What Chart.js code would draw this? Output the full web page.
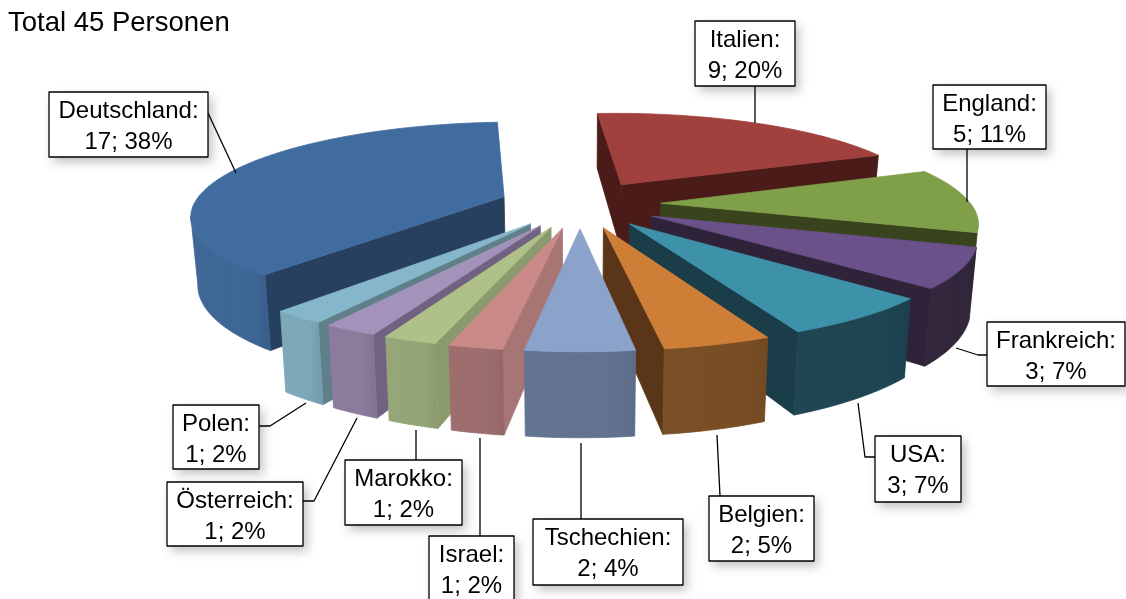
<!DOCTYPE html>
<html>
<head>
<meta charset="utf-8">
<style>html,body{margin:0;padding:0;background:#fff}canvas{display:block}</style>
<script src="https://cdn.jsdelivr.net/npm/chart.js@4/dist/chart.umd.js"></script>
</head>
<body>
<canvas id="c" width="1126" height="599"></canvas>
<script>
const categories = ['Deutschland','Italien','England','Frankreich','USA','Belgien','Tschechien','Israel','Marokko','Österreich','Polen'];
const personen = [17,9,5,3,3,2,2,1,1,1,1];
const prozent = [38,20,11,7,7,5,4,2,2,2,2];
const titleText = 'Total 45 Personen';
const topColors = ['#416CA0','#A0413D','#7F9F49','#6A5189','#3D92AA','#CF7E38','#8BA2CA','#C98987','#AFC189','#A393BA','#86B6C9'];
const wallColors = ['#3C6595','#4A1B18','#39441E','#2E2338','#1C4250','#784C22','#60718F','#9C6B6B','#93A475','#8B799B','#7AA7B9'];
const sideColors = ['#284060','#4A1B18','#39441E','#2E2338','#1B3D49','#5B3517','#55667F','#A87575','#8A9A6E','#706280','#5F8089'];
const noOuterWall = ['England'];

// label layout: box [x, y, w, h], leader polyline [x,y,...]
const labelBoxes = [[49,92,159,65],[695,21,100,65],[933,85,113,64],[987,322,138,64],[875,436,86,66],[709,496,105,65],[533,519,150,66],[429,536,85,66],[345,460,117,65],[167,482,136,64],[173,405,86,64]];
const leaderLines = [
  [208,113,236,173],[755,86,755,123],[967,149,967,202],
  [987,355,978,355,956,348],[875,457,865,457,858,403],[720,496,717,435],
  [581,519,581,443],[480,536,480,438],[416,460,416,430],
  [303,501,314,501,357,418],[259,426,270,426,306,403]
];
const view = { tilt: 0.292, persp: 0.18, depth: 0.2145, shiftX: 13, converge: 0.018 };
const FONT = '"Liberation Sans", Arial, sans-serif';

function project(el, a, r, z) {
  const R = el.outerRadius;
  const off = (el.options.offset || 0) / R;
  const mid = (el.startAngle + el.endAngle) / 2;
  const u = r * Math.cos(a) + off * Math.cos(mid);
  const v = r * Math.sin(a) + off * Math.sin(mid);
  const w = 1 - view.persp * v;
  return [el.x + view.shiftX + (1 - view.converge * z) * R * u / w, el.y + R * view.tilt * v / w + R * view.depth * z / w];
}
function poly(ctx, pts, fill) {
  ctx.beginPath();
  pts.forEach((p, i) => i ? ctx.lineTo(p[0], p[1]) : ctx.moveTo(p[0], p[1]));
  ctx.closePath();
  ctx.fillStyle = fill; ctx.strokeStyle = fill; ctx.lineWidth = 0.8;
  ctx.fill(); ctx.stroke();
}
const pie3d = {
  id: 'pie3d',
  beforeDatasetDraw(chart) {
    const ctx = chart.ctx;
    const arcs = chart.getDatasetMeta(0).data.map((el, i) => ({ el, i }));
    arcs.sort((p, q) => Math.sin((p.el.startAngle + p.el.endAngle) / 2) - Math.sin((q.el.startAngle + q.el.endAngle) / 2));
    ctx.save();
    for (const { el, i } of arcs) {
      const n = Math.max(8, Math.ceil((el.endAngle - el.startAngle) / 0.02));
      const angs = []; for (let k = 0; k <= n; k++) angs.push(el.startAngle + (el.endAngle - el.startAngle) * k / n);
      const apexT = project(el, 0, 0, 0), apexB = project(el, 0, 0, 1);
      const T = angs.map(a => project(el, a, 1, 0)), B = angs.map(a => project(el, a, 1, 1));
      if (T[0][0] < apexT[0]) poly(ctx, [apexT, T[0], B[0], apexB], sideColors[i]);
      if (apexT[0] < T[n][0]) poly(ctx, [T[n], apexT, apexB, B[n]], sideColors[i]);
      const tv = [], bv = [];
      for (let k = 0; k < n; k++) {
        if (T[k + 1][0] < T[k][0]) {
          if (!tv.length) { tv.push(T[k]); bv.push(B[k]); }
          tv.push(T[k + 1]); bv.push(B[k + 1]);
        }
      }
      if (tv.length && !noOuterWall.includes(categories[i])) {
        const pts = tv.concat(bv.slice().reverse());
        poly(ctx, pts, wallColors[i]);
        const x0 = tv[tv.length - 1][0], x1 = tv[0][0];
        const g = ctx.createLinearGradient(x0, 0, x1, 0);
        g.addColorStop(0, 'rgba(255,255,255,0.02)');
        g.addColorStop(0.6, 'rgba(255,255,255,0.01)');
        g.addColorStop(1, 'rgba(0,0,0,0.05)');
        ctx.beginPath();
        pts.forEach((p, k) => k ? ctx.lineTo(p[0], p[1]) : ctx.moveTo(p[0], p[1]));
        ctx.closePath(); ctx.fillStyle = g; ctx.fill();
      }
      poly(ctx, [apexT].concat(T), el.options.backgroundColor);
    }
    ctx.restore();
    return false;
  },
  afterDraw(chart) {
    const ctx = chart.ctx;
    ctx.save();
    ctx.strokeStyle = '#000'; ctx.lineWidth = 1.3; ctx.lineJoin = 'round';
    leaderLines.forEach(l => {
      ctx.beginPath(); ctx.moveTo(l[0], l[1]);
      for (let k = 2; k < l.length; k += 2) ctx.lineTo(l[k], l[k + 1]);
      ctx.stroke();
    });
    categories.forEach((name, i) => {
      const [x, y, w, h] = labelBoxes[i];
      ctx.save();
      ctx.shadowColor = 'rgba(0,0,0,0.25)'; ctx.shadowBlur = 10; ctx.shadowOffsetX = 4; ctx.shadowOffsetY = 5;
      ctx.fillStyle = '#fff'; ctx.fillRect(x, y, w, h);
      ctx.restore();
      ctx.strokeStyle = '#000'; ctx.lineWidth = 1.3; ctx.strokeRect(x, y, w, h);
      ctx.fillStyle = '#000'; ctx.font = '24px ' + FONT; ctx.textAlign = 'center'; ctx.textBaseline = 'alphabetic';
      ctx.fillText(name + ':', x + w / 2, y + 26);
      ctx.fillText(personen[i] + '; ' + prozent[i] + '%', x + w / 2, y + 56.5);
    });
    ctx.restore();
  }
};
new Chart(document.getElementById('c'), {
  type: 'pie',
  data: { labels: categories, datasets: [{ data: personen, backgroundColor: topColors, borderWidth: 0, offset: 81 }] },
  options: {
    responsive: false, animation: false, rotation: 220, radius: 310,
    layout: { padding: { left: 8, right: 0, top: 0, bottom: 235 } },
    plugins: {
      legend: { display: false }, tooltip: { enabled: false },
      title: { display: true, text: titleText, align: 'start', color: '#000', font: { family: FONT, size: 27.5, weight: 'normal' }, padding: { top: 7, bottom: 4 } }
    }
  },
  plugins: [pie3d]
});
</script>
</body>
</html>
